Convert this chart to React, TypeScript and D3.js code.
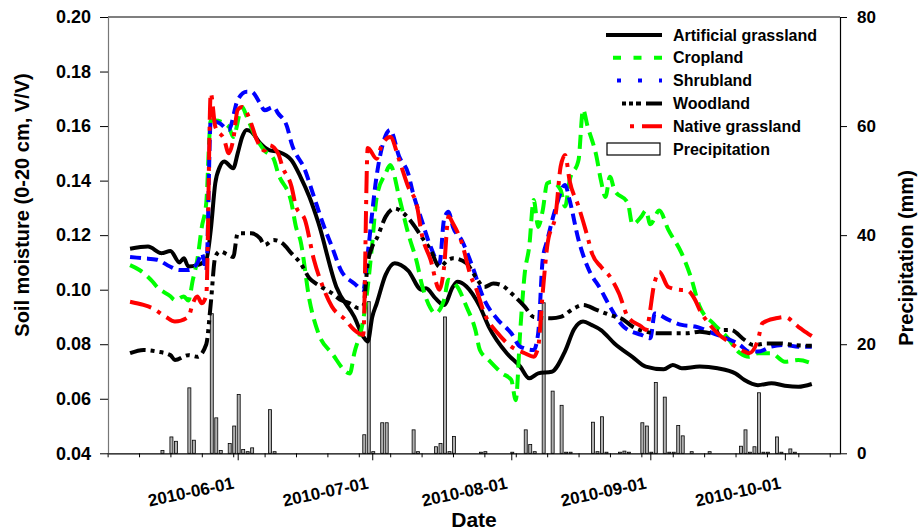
import React, { useRef, useEffect } from "react";
import * as d3 from "d3";

// soil moisture (V/V) and rain (mm), x = days after 2010-05-01
const artificialGrassland: [number, number][] = [
  [7, 0.115], [11, 0.1158], [14, 0.1134], [16, 0.1142], [18, 0.11], [19, 0.1115], [20, 0.1085],
  [22, 0.109], [24, 0.111], [25, 0.122], [26, 0.139], [27, 0.145], [28, 0.147], [30, 0.1445],
  [31, 0.15], [32, 0.156], [33, 0.1586], [34, 0.158], [36, 0.1537], [38, 0.1512], [40, 0.1506],
  [43, 0.1475], [45, 0.1414], [47, 0.134], [49, 0.1245], [53, 0.101], [57, 0.09], [59, 0.0828],
  [60, 0.081], [61, 0.09], [62, 0.095], [64, 0.1055], [66, 0.1097], [69, 0.107], [72, 0.1],
  [73, 0.1005], [75, 0.097], [77, 0.0944], [79, 0.1011], [80, 0.1029], [82, 0.1012], [85, 0.0938],
  [87, 0.0864], [91, 0.0767], [94, 0.0718], [96, 0.0675], [98, 0.0693], [101, 0.0699],
  [104, 0.0775], [106, 0.0855], [108, 0.0883], [110, 0.087], [112, 0.0852], [115, 0.0803],
  [119, 0.0754], [122, 0.0718], [126, 0.0708], [128, 0.0724], [130, 0.0712], [134, 0.0718],
  [138, 0.0712], [142, 0.0693], [144, 0.0669], [147, 0.065], [150, 0.0657], [153, 0.0648],
  [156, 0.0644], [159, 0.0654],
];

const cropland: [number, number][] = [
  [7, 0.109], [9, 0.1073], [12, 0.103], [13, 0.101], [16, 0.0976], [17, 0.0962], [19, 0.0975],
  [20, 0.096], [21, 0.1036], [22, 0.111], [23, 0.123], [24, 0.132], [25, 0.162], [26, 0.162],
  [29, 0.1598], [30, 0.156], [32, 0.167], [33, 0.1635], [35, 0.156], [37, 0.151], [39, 0.148],
  [40, 0.1427], [43, 0.1317], [44, 0.123], [45, 0.118], [47, 0.0962], [49, 0.084], [52, 0.0767],
  [56, 0.0693], [57, 0.0767], [59, 0.089], [60, 0.101], [61, 0.117], [62, 0.134], [64, 0.1427],
  [65, 0.1457], [67, 0.134], [69, 0.1207], [71, 0.1097], [72, 0.1023], [74, 0.0932], [75, 0.0913],
  [77, 0.0962], [78, 0.1036], [80, 0.101], [82, 0.0938], [84, 0.0852], [85, 0.0779], [87, 0.0742],
  [90, 0.0693], [92, 0.0669], [93, 0.0595], [94, 0.085], [95, 0.106], [96, 0.1158], [97, 0.1329],
  [98, 0.123], [99, 0.129], [100, 0.139], [101, 0.1396], [103, 0.1366], [104, 0.1305], [105, 0.14],
  [107, 0.1476], [108, 0.166], [109, 0.16], [111, 0.1488], [112, 0.14], [113, 0.134], [114, 0.1414],
  [115, 0.1366], [118, 0.1317], [119, 0.124], [121, 0.1268], [122, 0.129], [123, 0.124],
  [125, 0.129], [127, 0.122], [130, 0.1133], [132, 0.1048], [134, 0.0938], [137, 0.0877],
  [140, 0.0828], [143, 0.0767], [145, 0.0754], [147, 0.0767], [150, 0.0767], [153, 0.0736],
  [156, 0.0742], [159, 0.073],
];

const shrubland: [number, number][] = [
  [7, 0.112], [10, 0.1115], [13, 0.111], [16, 0.1084], [18, 0.1072], [20, 0.1072], [22, 0.1097],
  [23, 0.1133], [24, 0.107], [25, 0.162], [27, 0.161], [29, 0.1586], [31, 0.1696], [33, 0.1726],
  [34, 0.1726], [36, 0.1683], [37, 0.1658], [39, 0.167], [40, 0.1647], [42, 0.1598], [43, 0.1537],
  [46, 0.1439], [48, 0.1341], [50, 0.1243], [52, 0.1158], [54, 0.1072], [57, 0.1023], [59, 0.0999],
  [60, 0.1133], [62, 0.142], [63, 0.151], [65, 0.1586], [67, 0.1488], [69, 0.1427], [70, 0.136],
  [72, 0.1256], [74, 0.1158], [76, 0.1097], [77, 0.1256], [78, 0.1286], [79, 0.123], [81, 0.118],
  [83, 0.11], [86, 0.0962], [89, 0.089], [92, 0.084], [94, 0.0791], [97, 0.0779], [98, 0.084],
  [99, 0.1109], [100, 0.118], [102, 0.1305], [104, 0.1384], [105, 0.1329], [107, 0.1182],
  [109, 0.1084], [112, 0.0999], [114, 0.0938], [117, 0.0865], [121, 0.0834], [123, 0.0822],
  [124, 0.0913], [127, 0.089], [130, 0.0871], [133, 0.0865], [137, 0.084], [140, 0.0822],
  [143, 0.0797], [145, 0.0773], [147, 0.0773], [150, 0.0791], [153, 0.0797], [156, 0.0791],
  [159, 0.0791],
];

const woodland: [number, number][] = [
  [7, 0.0767], [10, 0.0779], [13, 0.0773], [16, 0.076], [17, 0.0742], [20, 0.076], [22, 0.0754],
  [24, 0.08], [25, 0.095], [26, 0.112], [27, 0.114], [29, 0.1127], [30, 0.112], [31, 0.1207],
  [34, 0.1207], [36, 0.1188], [37, 0.1164], [39, 0.1182], [41, 0.117], [43, 0.1133], [45, 0.1097],
  [47, 0.1042], [49, 0.1017], [52, 0.0987], [54, 0.0962], [56, 0.095], [58, 0.0932], [59, 0.0938],
  [60, 0.1097], [61, 0.1158], [62, 0.1188], [64, 0.1268], [66, 0.1298], [68, 0.128], [70, 0.1243],
  [72, 0.1194], [74, 0.1146], [76, 0.1084], [78, 0.111], [79, 0.1115], [82, 0.1097], [84, 0.1048],
  [86, 0.101], [88, 0.1023], [90, 0.1015], [92, 0.0987], [95, 0.0938], [97, 0.09], [101, 0.0895],
  [103, 0.09], [106, 0.0932], [108, 0.0944], [111, 0.0926], [114, 0.0907], [117, 0.089],
  [119, 0.0865], [122, 0.0846], [125, 0.084], [128, 0.084], [131, 0.084], [134, 0.0846],
  [137, 0.084], [139, 0.0852], [141, 0.0852], [144, 0.0816], [146, 0.0797], [149, 0.0803],
  [152, 0.0803], [155, 0.0797], [159, 0.0794],
];

const nativeGrassland: [number, number][] = [
  [7, 0.0956], [10, 0.0944], [12, 0.0932], [15, 0.09], [17, 0.0883], [20, 0.09], [21, 0.095],
  [22, 0.0975], [23, 0.095], [24, 0.098], [25, 0.172], [26, 0.1598], [28, 0.155], [29, 0.15],
  [30, 0.155], [31, 0.166], [32, 0.167], [34, 0.161], [35, 0.156], [37, 0.151], [38, 0.153],
  [40, 0.15], [41, 0.145], [43, 0.1378], [44, 0.1305], [46, 0.1256], [48, 0.111], [50, 0.101],
  [52, 0.0938], [55, 0.089], [57, 0.0852], [59, 0.0834], [60, 0.152], [62, 0.148], [63, 0.1525],
  [65, 0.156], [67, 0.1476], [69, 0.1378], [71, 0.1305], [72, 0.1207], [74, 0.111], [76, 0.1],
  [77, 0.108], [78, 0.1268], [79, 0.1243], [81, 0.117], [83, 0.1048], [84, 0.1011], [86, 0.0913],
  [89, 0.084], [92, 0.0791], [95, 0.0767], [97, 0.0754], [98, 0.0791], [99, 0.0987], [100, 0.1158],
  [102, 0.129], [103, 0.1451], [104, 0.1494], [105, 0.14], [107, 0.1305], [109, 0.1194],
  [110, 0.1133], [112, 0.1084], [114, 0.1048], [116, 0.0987], [118, 0.09], [121, 0.0865],
  [122, 0.0852], [124, 0.103], [125, 0.1066], [127, 0.101], [130, 0.0999], [131, 0.0999],
  [133, 0.0962], [134, 0.0926], [136, 0.0877], [138, 0.084], [141, 0.0803], [144, 0.0773],
  [145, 0.0767], [147, 0.0816], [148, 0.0877], [151, 0.0895], [153, 0.09], [156, 0.0864],
  [157, 0.0852], [159, 0.083],
];

const precipitation: [number, number][] = [
  [14, 0.5], [16, 3.0], [17, 2.2], [20, 12], [21, 2.4], [25, 25.6], [26, 6.5], [27, 0.5], [29, 1.8],
  [30, 5], [31, 10.8], [32, 0.7], [33, 0.3], [34, 1.0], [38, 8], [39, 0.3], [59, 3.4], [60, 27.8],
  [61, 0.3], [63, 5.6], [64, 5.6], [70, 4.3], [71, 0.3], [75, 1.2], [76, 1.8], [77, 25], [78, 0.3],
  [79, 3.1], [85, 0.2], [86, 0.3], [92, 0.2], [95, 4.3], [96, 1.6], [97, 0.3], [99, 27.6],
  [101, 11.4], [103, 8.8], [104, 0.2], [105, 0.2], [110, 5.7], [111, 0.3], [112, 6.7], [113, 0.2],
  [116, 0.2], [117, 0.4], [118, 0.2], [121, 5.6], [122, 5.0], [123, 0.2], [124, 13], [126, 10.3],
  [127, 0.2], [128, 0.2], [129, 5.1], [130, 3.2], [132, 0.3], [136, 0.3], [143, 1.3], [144, 4.3],
  [145, 0.2], [146, 1.2], [147, 11.1], [148, 0.2], [149, 0.2], [151, 3.0], [152, 0.2], [154, 0.8],
  [155, 0.2],
];

const moistureTicks = [0.04, 0.06, 0.08, 0.1, 0.12, 0.14, 0.16, 0.18, 0.2];
const rainTicks = [0, 20, 40, 60, 80];
const seriesNames = ["Artificial grassland", "Cropland", "Shrubland", "Woodland", "Native grassland"];

const START = new Date(2010, 4, 1);
const FONT = "'Liberation Sans', Arial, sans-serif";

const styles = [
  { color: "#000000", dash: null, legendX: 606, legendDash: null },
  { color: "#00ff00", dash: "14,7", legendX: 613, legendDash: "8,12.5" },
  { color: "#0000ff", dash: "11,6", legendX: 617, legendDash: "4,17" },
  { color: "#000000", dash: "16,5,4,5,4,5", legendX: 622, legendDash: "4,3,4,3,5,5,17,40" },
  { color: "#ff0000", dash: "22,7,4,7", legendX: 630, legendDash: "4,8,20,40" },
];

const Chart = () => {
  const ref = useRef<SVGSVGElement>(null);

  useEffect(() => {
    const svg = d3.select(ref.current);
    svg.selectAll("*").remove();

    const left = 108, right = 840, top = 17, bottom = 453.3;
    const day = (n: number) => d3.timeDay.offset(START, n);

    const x = d3
      .scaleTime()
      .domain([new Date(2010, 4, 3, 2), new Date(2010, 9, 13, 7)])
      .range([left, right]);
    const y = d3.scaleLinear().domain([0.04, 0.2]).range([bottom, top]);
    const yRain = d3.scaleLinear().domain([0, 80]).range([bottom, top]);

    // precipitation bars
    svg
      .append("g")
      .selectAll("rect")
      .data(precipitation)
      .enter()
      .append("rect")
      .attr("x", (d) => x(day(d[0])) - 0.5)
      .attr("width", 3)
      .attr("y", (d) => yRain(d[1]))
      .attr("height", (d) => yRain(0) - yRain(d[1]))
      .attr("fill", "#b0b0b0")
      .attr("stroke", "#000")
      .attr("stroke-width", 0.8);

    const line = d3
      .line<[number, number]>()
      .x((d) => x(day(d[0])))
      .y((d) => y(d[1]))
      .curve(d3.curveMonotoneX);

    const allSeries = [artificialGrassland, cropland, shrubland, woodland, nativeGrassland];
    allSeries.forEach((s, i) => {
      svg
        .append("path")
        .datum(s)
        .attr("fill", "none")
        .attr("stroke", styles[i].color)
        .attr("stroke-width", 4)
        .attr("stroke-dasharray", styles[i].dash)
        .attr("d", line);
    });

    // frame
    svg.append("line").attr("x1", left).attr("x2", right).attr("y1", top).attr("y2", top)
      .attr("stroke", "#000").attr("stroke-width", 1.2);

    // left axis
    const gl = svg.append("g").attr("transform", `translate(${left},0)`).call(
      d3.axisLeft(y).tickValues(moistureTicks).tickSize(8).tickSizeOuter(0).tickPadding(9)
        .tickFormat(d3.format(".2f") as any)
    );
    gl.select(".domain").attr("stroke", "#777").attr("stroke-width", 1.2);
    gl.selectAll("text").attr("font-family", FONT).attr("font-weight", "bold").attr("font-size", 18).attr("fill", "#000");

    // right axis
    const gr = svg.append("g").attr("transform", `translate(${right},0)`).call(
      d3.axisRight(yRain).tickValues(rainTicks).tickSize(7).tickSizeOuter(0).tickPadding(10)
    );
    gr.select(".domain").attr("stroke", "#000").attr("stroke-width", 1.2);
    gr.selectAll("text").attr("font-family", FONT).attr("font-weight", "bold").attr("font-size", 17).attr("fill", "#000");

    // bottom axis: weekly minor ticks, monthly major ticks
    const end = x.domain()[1];
    const mondays = d3.timeMonday.range(new Date(2010, 4, 3), end);
    const months = d3.timeMonth.range(new Date(2010, 5, 1), end);
    const gb = svg.append("g").attr("transform", `translate(0,${bottom})`);
    gb.call(d3.axisBottom(x).tickValues(mondays).tickSize(4).tickSizeOuter(0).tickFormat(() => ""));
    gb.select(".domain").attr("stroke", "#000").attr("stroke-width", 1.2);
    const gm = svg.append("g").attr("transform", `translate(0,${bottom})`);
    gm.call(d3.axisBottom(x).tickValues(months).tickSize(7).tickSizeOuter(0).tickFormat(() => ""));
    gm.select(".domain").remove();

    svg
      .append("g")
      .selectAll("text")
      .data(months)
      .enter()
      .append("text")
      .attr("transform", (d) => `translate(${x(d) - 3},${bottom + 35}) rotate(-12)`)
      .attr("text-anchor", "end")
      .attr("font-family", FONT)
      .attr("font-weight", "bold")
      .attr("font-size", 17)
      .text((d) => d3.timeFormat("%Y-%m-%d")(d));

    // axis titles
    svg.append("text")
      .attr("transform", "translate(29,205) rotate(-90)")
      .attr("text-anchor", "middle")
      .attr("font-family", FONT).attr("font-weight", "bold").attr("font-size", 20)
      .text("Soil moisture (0-20 cm, V/V)");
    svg.append("text")
      .attr("transform", "translate(913,258) rotate(-90)")
      .attr("text-anchor", "middle")
      .attr("font-family", FONT).attr("font-weight", "bold").attr("font-size", 20)
      .text("Precipitation (mm)");
    svg.append("text")
      .attr("x", (left + right) / 2)
      .attr("y", 527)
      .attr("text-anchor", "middle")
      .attr("font-family", FONT).attr("font-weight", "bold").attr("font-size", 21)
      .text("Date");

    // legend
    const lg = svg.append("g");
    const rowY = (i: number) => 35 + i * 22.8;
    seriesNames.forEach((name, i) => {
      lg.append("line")
        .attr("x1", styles[i].legendX).attr("x2", 662)
        .attr("y1", rowY(i)).attr("y2", rowY(i))
        .attr("stroke", styles[i].color).attr("stroke-width", 4)
        .attr("stroke-dasharray", styles[i].legendDash);
      lg.append("text")
        .attr("x", 673).attr("y", rowY(i)).attr("dy", "0.35em")
        .attr("font-family", FONT).attr("font-weight", "bold").attr("font-size", 16)
        .text(name);
    });
    lg.append("rect")
      .attr("x", 607).attr("y", rowY(5) - 6).attr("width", 53).attr("height", 12)
      .attr("fill", "#fff").attr("stroke", "#000").attr("stroke-width", 1.2);
    lg.append("text")
      .attr("x", 673).attr("y", rowY(5)).attr("dy", "0.35em")
      .attr("font-family", FONT).attr("font-weight", "bold").attr("font-size", 16)
      .text("Precipitation");
  }, []);

  return (
    <svg
      ref={ref}
      width={919}
      height={530}
      style={{ position: "absolute", left: 0, top: 0, background: "#fff" }}
    />
  );
};

export default function App() {
  return <Chart />;
}
